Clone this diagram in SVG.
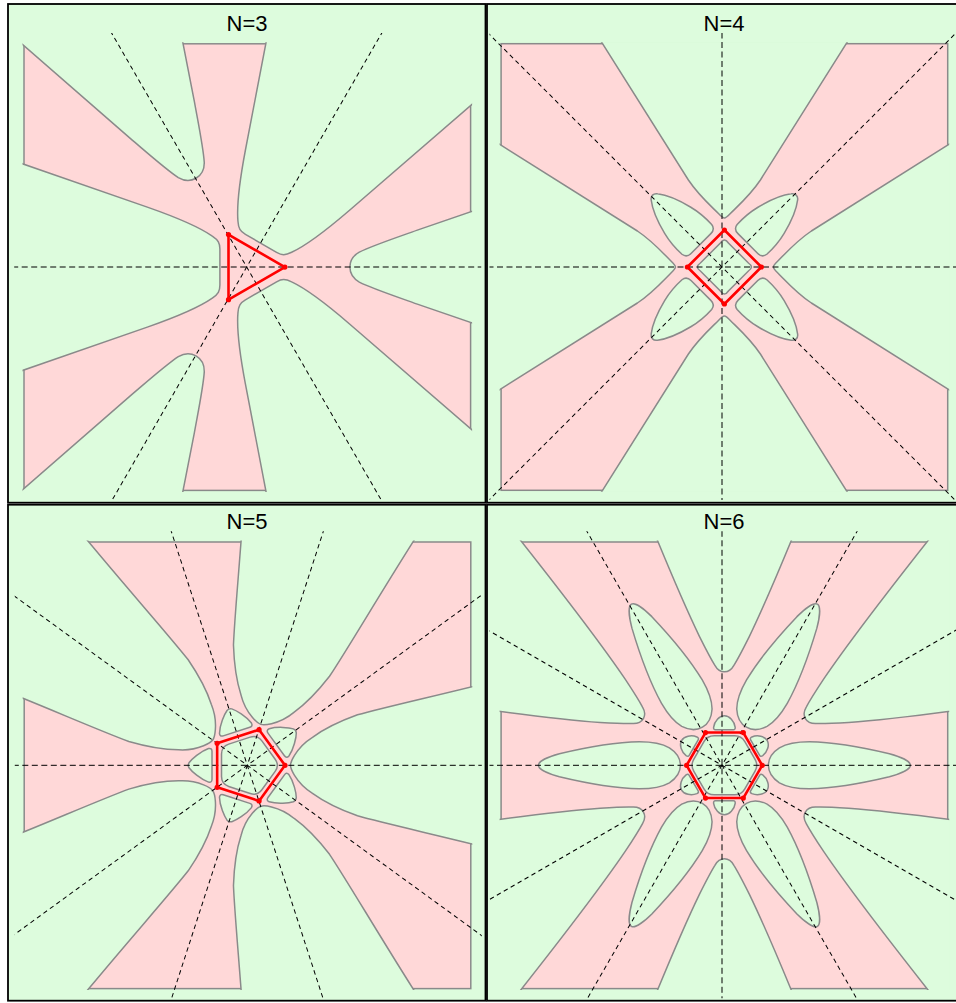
<svg xmlns="http://www.w3.org/2000/svg" width="956" height="1003" viewBox="0 0 956 1003">
<style>
.panel{fill:#ddfcdd;stroke:#000;stroke-width:1.8}
.pink{fill:#ffd8d8;stroke:#8a8a8a;stroke-width:1.5}
.grn{fill:#ddfcdd;stroke:#8a8a8a;stroke-width:1.5}
.dash{stroke:#000;stroke-width:1;fill:none}
.da{stroke-dasharray:6 3.5}
.dd{stroke-dasharray:4.5 3.5}
.poly{fill:none;stroke:#ff0000;stroke-width:2.6;stroke-linejoin:round}
.vtx{fill:#ff0000}
.title{font-family:"Liberation Sans",Arial,sans-serif;font-size:22px;fill:#000;text-anchor:middle}
</style>
<defs>
<clipPath id="cbox"><rect x="-224.8" y="-224.8" width="449.6" height="449.6"/></clipPath>
<clipPath id="cdash"><rect x="-232.5" y="-234" width="467" height="467"/></clipPath>
<path id="n3big" d="M-600,-233.6 L-100,-60 C-70,-49.5 -45,-38 -35,-31 C-29,-27 -27.4,-24 -27.4,-18 L-27.4,18 C-27.4,24 -29,27 -35,31 C-45,38 -70,49.5 -100,60 L-600,233.6 Z"/>
<path id="n3tongue" d="M600,-184.5 L170,-37 C150,-29.8 125,-21.5 112,-15 C105,-11 102.6,-5 102.6,0 C102.6,5 105,11 112,15 C125,21.5 150,29.8 170,37 L600,184.5 Z"/>
<path id="n4big" d="M0,-49 C1.5,-49 3.2,-50.6 5.7,-53.2 C14,-61.5 26,-72 36,-87 L359,-600 L-359,-600 L-36,-87 C-26,-72 -14,-61.5 -5.7,-53.2 C-3.2,-50.6 -1.5,-49 0,-49 Z"/>
<path id="n4isl" d="M33.2,-14 C33.2,-18 35,-20.5 39,-21 C48,-21.5 58,-20.5 66,-18.5 C80,-15 92,-10 99,-4.5 C102.5,-2 102.5,2 99,4.5 C92,10 80,15 66,18.5 C58,20.5 48,21.5 39,21 C35,20.5 33.2,18 33.2,14 Z"/>
<path id="n4core" d="M-4,-24 Q0,-30 4,-24 L24,-4 Q30,0 24,4 L4,24 Q0,30 -4,24 L-24,4 Q-30,0 -24,-4 Z"/>
<path id="n5big" d="M43,0 C43,-3 44.5,-6 47,-10 C51,-16.5 57,-23 65,-28 C76,-36 92,-44 110,-50.5 C140,-59 200,-72 270,-90 L500,-150 L500,150 L270,90 C200,72 140,59 110,50.5 C92,44 76,36 65,28 C57,23 51,16.5 47,10 C44.5,6 43,3 43,0 Z"/>
<path id="n5isl" d="M35.5,-14 Q35.5,-17.5 39,-16.8 C47,-14 56,-6 58.5,-2.5 Q60,0 58.5,2.5 C56,6 47,14 39,16.8 Q35.5,17.5 35.5,14 Z"/>
<path id="n5core" d="M27.66,6.11 Q32.1,0 27.66,-6.11 L14.36,-24.42 Q9.92,-30.53 2.74,-28.2 L-18.79,-21.2 Q-25.97,-18.87 -25.97,-11.32 L-25.97,11.32 Q-25.97,18.87 -18.79,21.2 L2.74,28.2 Q9.92,30.53 14.36,24.42 Z"/>
<path id="n6big" d="M93.5,0 C93.5,-4 95.5,-7 100,-9.5 C108,-14.5 118,-19.5 129,-25 C160,-40 230,-70 340,-113 L600,-215 L600,215 L340,113 C230,70 160,40 129,25 C118,19.5 108,14.5 100,9.5 C95.5,7 93.5,4 93.5,0 Z"/>
<path id="n6isl" d="M35.5,-9 Q35.5,-11 38,-10.8 C44,-10 49.5,-5 49.5,0 C49.5,5 44,10 38,10.8 Q35.5,11 35.5,9 Z"/>
<path id="n6long" d="M44,0 C44,-7 48,-13 55,-17.5 C62,-21.5 72,-23.5 85,-23.5 C110,-23 140,-17.5 165,-11.5 C176,-8.5 186,-4 186,0 C186,4 176,8.5 165,11.5 C140,17.5 110,23 85,23.5 C72,23.5 62,21.5 55,17.5 C48,13 44,7 44,0 Z"/>
<path id="n6core" d="M30.65,5.9 Q34.06,0 30.65,-5.9 L20.44,-23.6 Q17.03,-29.5 10.22,-29.5 L-10.22,-29.5 Q-17.03,-29.5 -20.44,-23.6 L-30.65,-5.9 Q-34.06,0 -30.65,5.9 L-20.44,23.6 Q-17.03,29.5 -10.22,29.5 L10.22,29.5 Q17.03,29.5 20.44,23.6 Z"/>
</defs>
<rect x="0" y="0" width="956" height="1003" fill="#fff"/>

<g id="panel-n3">
<rect class="panel" x="8" y="4" width="477.5" height="498.7"/>
<text class="title" x="247" y="30.5">N=3</text>
<g id="region-n3" transform="translate(247.3,267.1)">
<rect class="pink" x="-223.3" y="-223.3" width="446.6" height="446.6"/>
<g clip-path="url(#cbox)">
<use href="#n3big" class="grn"/>
<use href="#n3big" class="grn" transform="rotate(120)"/>
<use href="#n3big" class="grn" transform="rotate(-120)"/>
<use href="#n3tongue" class="grn"/>
<use href="#n3tongue" class="grn" transform="rotate(-120)"/>
<use href="#n3tongue" class="grn" transform="rotate(120)"/>
</g>
</g>
<g id="axes-n3" class="dash" transform="translate(246.7,267)" clip-path="url(#cdash)">
<line class="da" x1="-700" y1="0" x2="700" y2="0"/>
<line class="dd" x1="-700" y1="0" x2="700" y2="0" transform="rotate(-60)"/>
<line class="dd" x1="-700" y1="0" x2="700" y2="0" transform="rotate(-120)"/>
</g>
<g id="polygon-n3" transform="translate(247.3,267.1)">
<polygon class="poly" points="37.6,0 -18.8,-32.56 -18.8,32.56"/>
<circle class="vtx" cx="37.6" cy="0" r="2.6"/><circle class="vtx" cx="-18.8" cy="-32.56" r="2.6"/><circle class="vtx" cx="-18.8" cy="32.56" r="2.6"/>
</g>
</g>

<g id="panel-n4">
<rect class="panel" x="487" y="4" width="475" height="498.7"/>
<text class="title" x="724" y="30.5">N=4</text>
<g id="region-n4" transform="translate(724.4,267)">
<rect class="pink" x="-223.3" y="-223.3" width="446.6" height="446.6"/>
<g clip-path="url(#cbox)">
<use href="#n4big" class="grn"/>
<use href="#n4big" class="grn" transform="rotate(90)"/>
<use href="#n4big" class="grn" transform="rotate(180)"/>
<use href="#n4big" class="grn" transform="rotate(-90)"/>
<use href="#n4isl" class="grn" transform="rotate(-45)"/>
<use href="#n4isl" class="grn" transform="rotate(-135)"/>
<use href="#n4isl" class="grn" transform="rotate(135)"/>
<use href="#n4isl" class="grn" transform="rotate(45)"/>
<use href="#n4core" class="grn"/>
</g>
</g>
<g id="axes-n4" class="dash" transform="translate(722,267)" clip-path="url(#cdash)">
<line class="da" x1="-700" y1="0" x2="700" y2="0"/>
<line class="da" x1="0" y1="-700" x2="0" y2="700"/>
<line class="dd" x1="-700" y1="0" x2="700" y2="0" transform="rotate(-45)"/>
<line class="dd" x1="-700" y1="0" x2="700" y2="0" transform="rotate(45)"/>
</g>
<g id="polygon-n4" transform="translate(724.4,267)">
<polygon class="poly" points="0,-37 37,0 0,37 -37,0"/>
<circle class="vtx" cx="0" cy="-37" r="2.6"/><circle class="vtx" cx="37" cy="0" r="2.6"/><circle class="vtx" cx="0" cy="37" r="2.6"/><circle class="vtx" cx="-37" cy="0" r="2.6"/>
</g>
</g>

<g id="panel-n5">
<rect class="panel" x="8" y="504.7" width="477.5" height="496"/>
<text class="title" x="247" y="528.5">N=5</text>
<g id="region-n5" transform="translate(247.5,765.3)">
<rect class="pink" x="-223.3" y="-223.3" width="446.6" height="446.6"/>
<g clip-path="url(#cbox)">
<use href="#n5big" class="grn"/>
<use href="#n5big" class="grn" transform="rotate(-72)"/>
<use href="#n5big" class="grn" transform="rotate(-144)"/>
<use href="#n5big" class="grn" transform="rotate(144)"/>
<use href="#n5big" class="grn" transform="rotate(72)"/>
<use href="#n5isl" class="grn" transform="rotate(-36)"/>
<use href="#n5isl" class="grn" transform="rotate(-108)"/>
<use href="#n5isl" class="grn" transform="rotate(180)"/>
<use href="#n5isl" class="grn" transform="rotate(108)"/>
<use href="#n5isl" class="grn" transform="rotate(36)"/>
<use href="#n5core" class="grn"/>
</g>
</g>
<g id="axes-n5" class="dash" transform="translate(247.3,765.3)" clip-path="url(#cdash)">
<line class="da" x1="-700" y1="0" x2="700" y2="0"/>
<line class="dd" x1="-700" y1="0" x2="700" y2="0" transform="rotate(-36)"/>
<line class="dd" x1="-700" y1="0" x2="700" y2="0" transform="rotate(-72)"/>
<line class="dd" x1="-700" y1="0" x2="700" y2="0" transform="rotate(-108)"/>
<line class="dd" x1="-700" y1="0" x2="700" y2="0" transform="rotate(-144)"/>
</g>
<g id="polygon-n5" transform="translate(247.5,765.3)">
<polygon class="poly" points="37.5,0 11.59,-35.66 -30.34,-22.04 -30.34,22.04 11.59,35.66"/>
<circle class="vtx" cx="37.5" cy="0" r="2.6"/><circle class="vtx" cx="11.59" cy="-35.66" r="2.6"/><circle class="vtx" cx="-30.34" cy="-22.04" r="2.6"/><circle class="vtx" cx="-30.34" cy="22.04" r="2.6"/><circle class="vtx" cx="11.59" cy="35.66" r="2.6"/>
</g>
</g>

<g id="panel-n6">
<rect class="panel" x="487" y="504.7" width="475" height="496"/>
<text class="title" x="724" y="528.5">N=6</text>
<g id="region-n6" transform="translate(724.4,765.3)">
<rect class="pink" x="-223.3" y="-223.3" width="446.6" height="446.6"/>
<g clip-path="url(#cbox)">
<use href="#n6big" class="grn" transform="rotate(-30)"/>
<use href="#n6big" class="grn" transform="rotate(-90)"/>
<use href="#n6big" class="grn" transform="rotate(-150)"/>
<use href="#n6big" class="grn" transform="rotate(150)"/>
<use href="#n6big" class="grn" transform="rotate(90)"/>
<use href="#n6big" class="grn" transform="rotate(30)"/>
<use href="#n6long" class="grn"/>
<use href="#n6long" class="grn" transform="rotate(-60)"/>
<use href="#n6long" class="grn" transform="rotate(-120)"/>
<use href="#n6long" class="grn" transform="rotate(180)"/>
<use href="#n6long" class="grn" transform="rotate(120)"/>
<use href="#n6long" class="grn" transform="rotate(60)"/>
<use href="#n6isl" class="grn" transform="rotate(-30)"/>
<use href="#n6isl" class="grn" transform="rotate(-90)"/>
<use href="#n6isl" class="grn" transform="rotate(-150)"/>
<use href="#n6isl" class="grn" transform="rotate(150)"/>
<use href="#n6isl" class="grn" transform="rotate(90)"/>
<use href="#n6isl" class="grn" transform="rotate(30)"/>
<use href="#n6core" class="grn"/>
</g>
</g>
<g id="axes-n6" class="dash" transform="translate(722,765.3)" clip-path="url(#cdash)">
<line class="da" x1="-700" y1="0" x2="700" y2="0"/>
<line class="da" x1="0" y1="-700" x2="0" y2="700"/>
<line class="dd" x1="-700" y1="0" x2="700" y2="0" transform="rotate(-30)"/>
<line class="dd" x1="-700" y1="0" x2="700" y2="0" transform="rotate(-60)"/>
<line class="dd" x1="-700" y1="0" x2="700" y2="0" transform="rotate(-120)"/>
<line class="dd" x1="-700" y1="0" x2="700" y2="0" transform="rotate(-150)"/>
</g>
<g id="polygon-n6" transform="translate(724.4,765.3)">
<polygon class="poly" points="37.8,0 18.9,-32.74 -18.9,-32.74 -37.8,0 -18.9,32.74 18.9,32.74"/>
<circle class="vtx" cx="37.8" cy="0" r="2.6"/><circle class="vtx" cx="18.9" cy="-32.74" r="2.6"/><circle class="vtx" cx="-18.9" cy="-32.74" r="2.6"/><circle class="vtx" cx="-37.8" cy="0" r="2.6"/><circle class="vtx" cx="-18.9" cy="32.74" r="2.6"/><circle class="vtx" cx="18.9" cy="32.74" r="2.6"/>
</g>
</g>
</svg>
